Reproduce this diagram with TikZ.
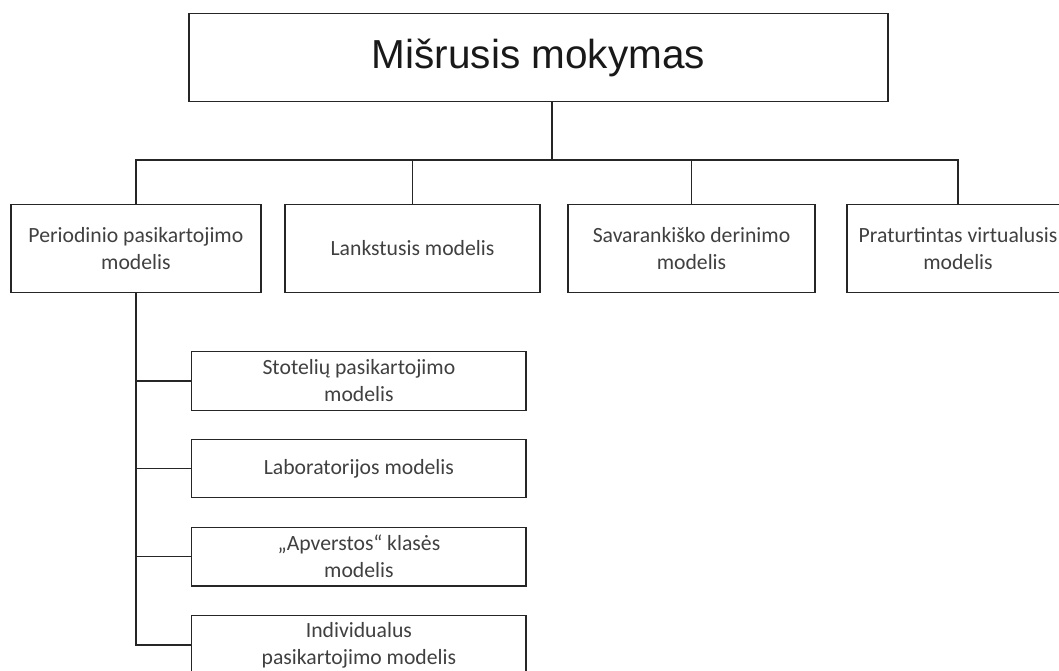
\documentclass[tikz,border=0pt]{standalone}
\usepackage{fontspec}
\setmainfont{Carlito}
\newfontfamily\titlefont{Liberation Sans}
\begin{document}
\begin{tikzpicture}[x=1pt,y=-1pt,
  box/.style={draw=black!85, line width=1.3pt, fill=white, inner sep=0pt,
    align=center, font=\fontsize{21.7}{27}\selectfont, text=black!75},
  topbox/.style={box, minimum width=699pt, minimum height=88pt,
    font=\titlefont\fontsize{40.5}{48}\selectfont, text=black!90},
  mainbox/.style={box, minimum height=88.4pt},
  subbox/.style={box, minimum width=334.3pt, minimum height=58.5pt},
  link/.style={draw=black!85, line width=1.3pt}]
\useasboundingbox (0,0) rectangle (1059,671);
\clip (0,0) rectangle (1059,671);

% root
\node[topbox] (top) at (538.5,57.6) {Mišrusis mokymas};

% first level
\node[mainbox, minimum width=250pt] (b1) at (135.9,248.5) {Periodinio pasikartojimo\\modelis};
\node[mainbox, minimum width=255pt] (b2) at (412.5,248.5) {Lankstusis modelis};
\node[mainbox, minimum width=247pt] (b3) at (691.5,248.5) {Savarankiško derinimo\\modelis};
\node[mainbox, minimum width=222pt] (b4) at (958,248.5) {Praturtintas virtualusis\\modelis};

% second level under the first box
\node[subbox] (s1) at (358.9,380.9) {Stotelių pasikartojimo\\modelis};
\node[subbox] (s2) at (358.9,468.5) {Laboratorijos modelis};
\node[subbox] (s3) at (358.9,556.7) {„Apverstos“ klasės\\modelis};
\node[subbox] (s4) at (358.9,645.0) {Individualus\\pasikartojimo modelis};

% bus between root and first level
\coordinate (hub) at (552,160);
\draw[link] (top.south -| hub) -- (hub);
\draw[link] (b1.north) |- (hub) -| (b4.north);
\draw[link] (b2.north) -- (b2.north |- hub);
\draw[link] (b3.north) -- (b3.north |- hub);

% spine of the second level
\draw[link] (b1.south) |- (s4.west);
\draw[link] (s1.west) -- (s1.west -| b1.south);
\draw[link] (s2.west) -- (s2.west -| b1.south);
\draw[link] (s3.west) -- (s3.west -| b1.south);
\end{tikzpicture}
\end{document}
